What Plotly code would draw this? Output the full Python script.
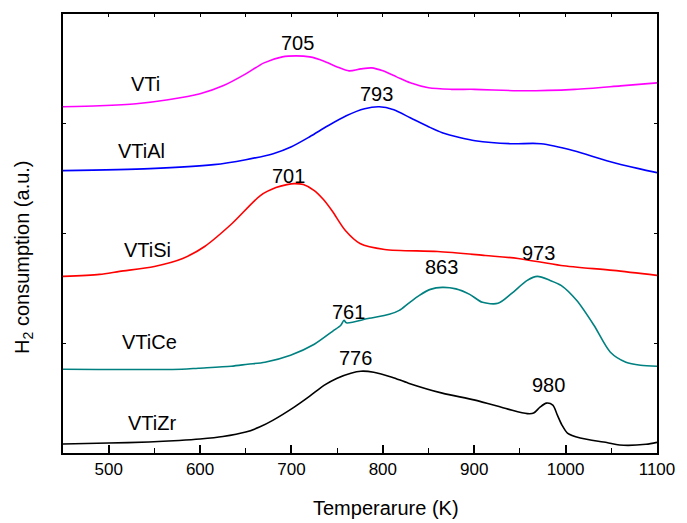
import plotly.graph_objects as go

# Temperature (K) and H2 consumption (a.u., offset-stacked)
t_vti = [450, 490, 530, 565, 600, 625, 650, 670, 690, 705, 720, 735, 750, 763, 776, 788, 800, 815, 830, 850, 875, 900, 955, 1010, 1060, 1100]
y_vti = [347, 348, 350, 354, 360, 368, 380, 391, 397, 398, 397, 393, 387, 383, 385, 386, 383, 377, 371, 366, 364.5, 364.5, 363, 364.5, 368, 371]

t_vtial = [450, 545, 615, 650, 680, 700, 720, 740, 760, 780, 796, 812, 830, 850, 865, 885, 901, 940, 973, 1009, 1045, 1080, 1100]
y_vtial = [283, 285, 289, 294, 300, 307, 317, 328, 338, 345, 347, 344, 336, 327, 321, 316, 313, 310, 310, 303, 293, 285, 281]

t_vtisi = [450, 490, 512, 550, 581, 605, 635, 666, 683, 695, 703, 713, 725, 735, 745, 759, 775, 802, 860, 912, 948, 995, 1052, 1100]
y_vtisi = [177, 179, 182, 187, 195, 207, 230, 258, 266, 269, 270, 269, 263, 254, 242, 223, 210, 204, 202, 198, 195, 188, 183, 178]

t_vtice = [450, 580, 598, 634, 652, 671, 699, 725, 745, 754, 757.5, 760, 785, 807, 818, 828, 840, 852, 865, 880, 895, 909, 926, 941, 958, 969, 983, 995, 1012, 1031, 1049, 1066, 1082, 1100]
y_vtice = [84, 84, 85, 87, 89, 91, 98, 109, 122, 128, 133, 130.5, 135, 139, 143, 150, 158, 164, 166, 164.5, 159, 151, 150, 160, 173, 177, 173, 168, 153, 128, 101, 91, 88, 87]

t_vtizr = [450, 500, 544, 577, 600, 625, 650, 665, 680, 703, 720, 736, 750, 765, 776, 790, 810, 828, 865, 901, 937, 958, 965, 972, 979, 986, 991, 996, 1002, 1016, 1045, 1059, 1088, 1100]
y_vtizr = [9, 10, 11, 12.5, 14, 16.5, 21, 26, 33, 46, 57, 68, 75, 80, 82, 81, 76, 70, 60, 53, 44, 39.5, 40, 46, 50, 48, 38, 28, 20, 15, 10.5, 8, 8.7, 10.7]

series = [
    ("VTi", t_vti, y_vti, "#FF00FF"),
    ("VTiAl", t_vtial, y_vtial, "#0000FF"),
    ("VTiSi", t_vtisi, y_vtisi, "#FF0000"),
    ("VTiCe", t_vtice, y_vtice, "#008080"),
    ("VTiZr", t_vtizr, y_vtizr, "#000000"),
]

# sample labels and peak labels (text, x in K, y in a.u.)
name_labels = [("VTi", 540, 370), ("VTiAl", 536, 303), ("VTiSi", 542, 203), ("VTiCe", 545, 111), ("VTiZr", 547, 30)]
peak_labels = [("705", 707, 411), ("793", 793, 360), ("701", 697, 278), ("863", 864, 186), ("973", 970, 200),
               ("761", 762, 141), ("776", 770, 95), ("980", 981, 68)]

FONT = "Liberation Sans, Arial, sans-serif"

fig = go.Figure()
for name, t, y, c in series:
    fig.add_trace(go.Scatter(x=t, y=y, mode="lines", name=name,
                             line=dict(color=c, width=1.6, shape="spline", smoothing=0.8),
                             showlegend=False))

# invisible trace for the top axis ticks
fig.add_trace(go.Scatter(x=[450, 1100], y=[0, 0], xaxis="x2", mode="lines",
                         line=dict(width=0), hoverinfo="skip", showlegend=False))

ann = []
for txt, x, y in name_labels + peak_labels:
    ann.append(dict(text=txt, x=x, y=y, xref="x", yref="y", showarrow=False,
                    font=dict(size=20, color="black", family=FONT)))
ann.append(dict(text="Temperarure (K)", xref="paper", yref="paper", x=(390 - 63) / 601, y=-(508 - 453) / 440,
                xanchor="center", yanchor="middle", showarrow=False,
                font=dict(size=20, color="black", family=FONT)))
ann.append(dict(text="H<sub>2</sub> consumption (a.u.)", xref="paper", yref="paper",
                x=(23 - 63) / 601, y=(453 - 257) / 440, textangle=-90, showarrow=False,
                xanchor="center", yanchor="middle",
                font=dict(size=20, color="black", family=FONT)))

fig.update_layout(
    annotations=ann,
    width=687, height=523,
    margin=dict(l=63, r=23, t=13, b=70),
    paper_bgcolor="white", plot_bgcolor="white",
    xaxis=dict(range=[450, 1100], tick0=0, dtick=100, ticks="inside", ticklen=8, tickwidth=1.5,
               tickcolor="black", showline=True, linecolor="black", linewidth=2, mirror=True,
               showgrid=False, zeroline=False,
               minor=dict(dtick=50, tick0=0, ticks="inside", ticklen=5, tickwidth=1.2, tickcolor="black", showgrid=False),
               tickfont=dict(size=17, color="black", family=FONT)),
    xaxis2=dict(range=[450, 1100], overlaying="x", side="top", tick0=0, dtick=50, ticks="inside",
                ticklen=3, tickwidth=1.2, tickcolor="black", showticklabels=False,
                showgrid=False, zeroline=False, showline=False),
    yaxis=dict(range=[0, 440], tickvals=[110, 220, 330], ticks="inside", ticklen=3, tickwidth=1.2,
               tickcolor="black", showticklabels=False, showline=True, linecolor="black",
               linewidth=2, mirror="ticks", showgrid=False, zeroline=False),
)

fig.write_html("out.html")
